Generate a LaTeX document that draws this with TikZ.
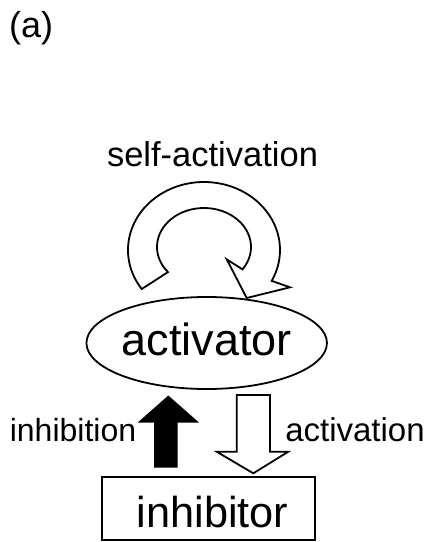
\documentclass[tikz,border=0pt]{standalone}
\usepackage{fontspec}
\setmainfont{Liberation Sans}
\usetikzlibrary{shapes.geometric}
\tikzset{
  lw/.style={line width=1.8pt, line join=miter},
  lbl/.style={inner sep=0pt, anchor=base},
  blockarrow/.style={lw, draw=black},
}
\newcommand{\fsz}[1]{\fontsize{#1}{#1}\selectfont}
\begin{document}
\begin{tikzpicture}[x=1pt,y=1pt]
\useasboundingbox (0,0) rectangle (430,-542);

% panel label
\node[lbl, anchor=base west] (panel) at (9,-37) {\fsz{36}(a)};

% self-activation label
\node[lbl] (selflbl) at (212.5,-166) {\fsz{34.5}self-activation};

% activator ellipse
\node[ellipse, draw, lw, minimum width=233.4pt, minimum height=92pt, inner sep=0pt,
      text height=24pt, text depth=0pt] (act) at (206.7,-343) {\fsz{45}activator};

% inhibitor box
\node[rectangle, draw, lw, minimum width=213pt, minimum height=63pt, inner sep=0pt,
      text height=38pt, text depth=0pt] (inh) at (208.5,-508.5) {\hspace*{8pt}\fsz{43.3}inhibitor};

% self-activation loop arrow
\coordinate (oc) at (204,-250);
\coordinate (ic) at (204,-247);
\coordinate (rwing) at (290,-287.3);
\coordinate (tip) at (246.7,-298);
\coordinate (lwing) at (226.7,-259.3);
\draw[lw, fill=white] ([shift={(oc)}]215:76 and 68)
   arc[start angle=215, end angle=-27, x radius=76, y radius=68]
   -- (rwing) -- (tip) -- (lwing)
   -- ([shift={(ic)}]-35:47 and 39)
   arc[start angle=-35, end angle=220, x radius=47, y radius=39]
   -- cycle;

% inhibition arrow (black, upward)
\draw[blockarrow, fill=black] (155,-466.7) -- (155,-421.7) -- (140,-421.7) -- (168.3,-396.7)
   -- (196.7,-421.7) -- (176.7,-421.7) -- (176.7,-466.7) -- cycle;
\node[lbl] (inhlbl) at (73,-441) {\fsz{32}inhibition};

% activation arrow (white, downward)
\draw[blockarrow, fill=white] (236.7,-395) -- (236.7,-451.7) -- (216.7,-451.7) -- (253.3,-473.3)
   -- (288.3,-451.7) -- (270,-451.7) -- (270,-395) -- cycle;
\node[lbl] (actlbl) at (355,-441) {\fsz{33}activation};
\end{tikzpicture}
\end{document}
